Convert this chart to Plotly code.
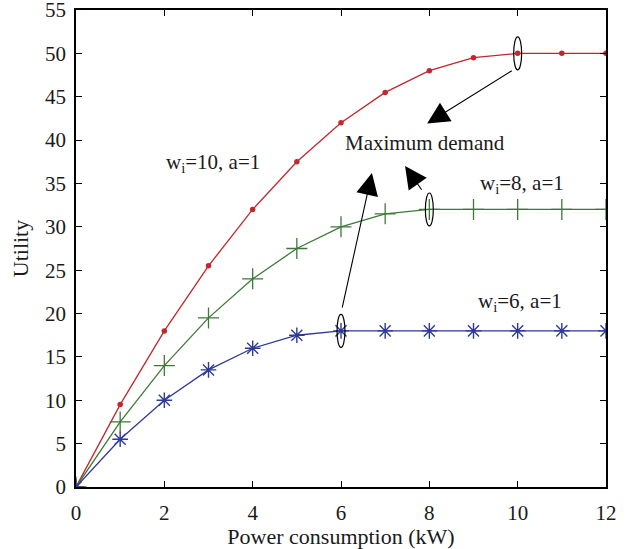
import plotly.graph_objects as go

x_vals = [0, 1, 2, 3, 4, 5, 6, 7, 8, 9, 10, 11, 12]
u_w10 = [0, 9.5, 18, 25.5, 32, 37.5, 42, 45.5, 48, 49.5, 50, 50, 50]
u_w8 = [0, 7.5, 14, 19.5, 24, 27.5, 30, 31.5, 32, 32, 32, 32, 32]
u_w6 = [0, 5.5, 10, 13.5, 16, 17.5, 18, 18, 18, 18, 18, 18, 18]

peak_x = [10, 8, 6]
peak_y = [50, 32, 18]

x_ticks = [0, 2, 4, 6, 8, 10, 12]
y_ticks = [0, 5, 10, 15, 20, 25, 30, 35, 40, 45, 50, 55]

RED = "#c1272d"
GREEN = "#3b7a36"
BLUE = "#2e3a96"
FONT = "Liberation Serif"
TXT = "#1a1a1a"

fig = go.Figure()
fig.add_trace(go.Scatter(x=x_vals, y=u_w10, mode="lines+markers",
                         line=dict(color=RED, width=1.3),
                         marker=dict(symbol="circle", size=5.5, color=RED)))
fig.add_trace(go.Scatter(x=x_vals, y=u_w8, mode="lines+markers",
                         line=dict(color=GREEN, width=1.3),
                         marker=dict(symbol="cross-thin-open", size=15,
                                     color=GREEN, line=dict(color=GREEN, width=1.3))))
fig.add_trace(go.Scatter(x=x_vals, y=u_w6, mode="lines+markers",
                         line=dict(color=BLUE, width=1.3),
                         marker=dict(symbol="asterisk-open", size=13,
                                     color=BLUE, line=dict(color=BLUE, width=1.4))))

# ellipses around maximum demand points
for px, py in zip(peak_x, peak_y):
    fig.add_shape(type="circle", xref="x", yref="y",
                  x0=px - 0.09, x1=px + 0.09, y0=py - 1.9, y1=py + 1.9,
                  line=dict(color="black", width=1.2))

# arrows: tip (x, y), tail (ax, ay)
arrows = [
    (7.95, 41.9, 9.9, 48.1),
    (7.45, 37.0, 7.85, 34.1),
    (6.7, 36.2, 6.02, 20.5),
]
for tx, ty, tax, tay in arrows:
    fig.add_annotation(x=tx, y=ty, ax=tax, ay=tay, xref="x", yref="y",
                       axref="x", ayref="y", text="", showarrow=True,
                       arrowhead=2, arrowsize=4, arrowwidth=1.1,
                       arrowcolor="black")

labels = [
    (3.1, 37.4, "w<sub>i</sub>=10, a=1"),
    (7.9, 39.7, "Maximum demand"),
    (10.1, 34.9, "w<sub>i</sub>=8, a=1"),
    (10.05, 21.3, "w<sub>i</sub>=6, a=1"),
]
for lx, ly, txt in labels:
    fig.add_annotation(x=lx, y=ly, xref="x", yref="y", text=txt,
                       showarrow=False, font=dict(family=FONT, size=21, color=TXT))

axis_common = dict(showline=True, linecolor="black", linewidth=1.5, mirror="ticks",
                   ticks="inside", ticklen=6, tickcolor="black", tickwidth=1.2,
                   showgrid=False, zeroline=False, ticklabeloverflow="allow",
                   tickfont=dict(family=FONT, size=21, color=TXT))

fig.update_xaxes(range=[0, 12], tickvals=x_ticks,
                 title=dict(text="Power consumption (kW)",
                            font=dict(family=FONT, size=22, color=TXT), standoff=4),
                 ticklabelstandoff=6, **axis_common)
fig.update_yaxes(range=[0, 55], tickvals=y_ticks,
                 title=dict(text="Utility",
                            font=dict(family=FONT, size=22, color=TXT), standoff=10),
                 ticklabelstandoff=4, **axis_common)

fig.update_layout(width=629, height=549, showlegend=False,
                  plot_bgcolor="white", paper_bgcolor="white",
                  margin=dict(l=76, r=23, t=10, b=62, autoexpand=False))

fig.write_html("out.html", config={"displayModeBar": False},
               post_script="document.body.style.margin='0px';document.body.style.overflow='hidden';")
